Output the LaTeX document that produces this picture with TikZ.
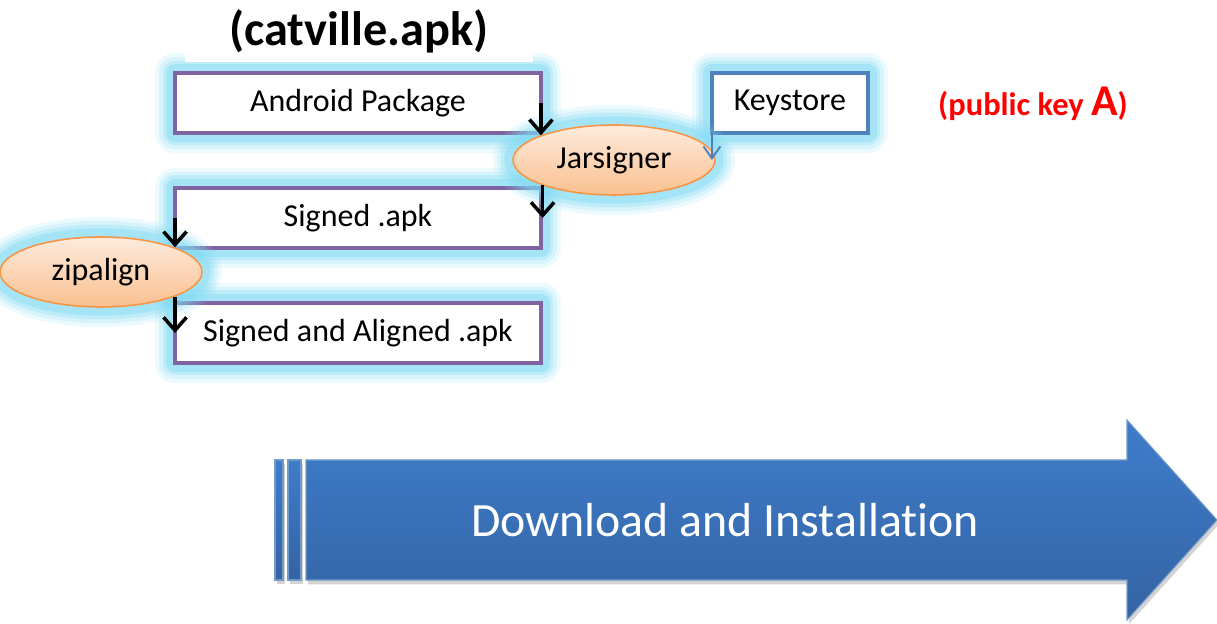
\documentclass[tikz,border=0pt]{standalone}
\usepackage{fontspec}
\setmainfont{Carlito}[Ligatures=NoCommon]
\usetikzlibrary{arrows.meta,positioning,shapes.geometric,shadows}
\definecolor{boxline}{HTML}{8064A2}
\definecolor{keyline}{HTML}{4F81BD}
\definecolor{glowc}{HTML}{7FD9F2}
\definecolor{ovalline}{HTML}{F79646}
\definecolor{ovaltop}{HTML}{FDEBDD}
\definecolor{ovalbot}{HTML}{FAC08F}
\definecolor{bandtop}{HTML}{3E7DCB}
\definecolor{bandbot}{HTML}{3463A3}

\begin{document}
\begin{tikzpicture}[x=0.02cm,y=-0.02cm,node distance=11mm and 34.2mm,
 glow/.style={preaction={draw=glowc,line width=8mm,opacity=0.14,line join=round},
  preaction={draw=glowc,line width=6.5mm,opacity=0.2,line join=round},
  preaction={draw=glowc,line width=5mm,opacity=0.28,line join=round},
  preaction={draw=glowc,line width=3.5mm,opacity=0.4,line join=round}},
 box/.style={glow,draw=boxline,line width=2.2pt,fill=white,outer sep=0pt,inner sep=0pt,
  minimum width=73.2mm,minimum height=12mm,font=\fontsize{18.2}{22}\selectfont},
 keybox/.style={box,draw=keyline,minimum width=31.2mm},
 oval/.style={glow,ellipse,draw=ovalline,line width=0.9pt,top color=ovaltop,bottom color=ovalbot,
  outer sep=0pt,inner sep=0pt,minimum width=40.4mm,minimum height=14mm,font=\fontsize{18.2}{22}\selectfont},
 arr/.style={-{Straight Barb[length=2.6mm,width=4.6mm]},line width=2pt,draw=black},
 keyarr/.style={-{Straight Barb[length=2.4mm,width=3.4mm]},line width=1.1pt,draw=keyline},
 band/.style={top color=bandtop,bottom color=bandbot,draw=keyline!80!white,line width=0.6pt,
  drop shadow={shadow xshift=1pt,shadow yshift=-2.5pt,opacity=0.35}}]
\useasboundingbox (0,0) rectangle (1217,624);
\node[box] (pkg) at (358,103) {\raisebox{-1pt}{Android Package}};
\node[box,below=of pkg] (signed) {\raisebox{-1pt}{Signed .apk}};
\node[box,below=of signed] (final) {\raisebox{-1pt}{Signed and Aligned .apk}};
\node[keybox,right=of pkg] (key) {\raisebox{-1pt}{Keystore}};
\node[fill=white,minimum width=69.6mm,minimum height=12.4mm,
 font=\bfseries\fontsize{27.5}{32}\selectfont] (title) at (359,31) {(catville.apk)};
\node[oval] (jar) at (614,160) {Jarsigner};
\node[oval] (zip) at (101,272) {zipalign};
\node[text=red,anchor=west,font=\bfseries\fontsize{18.5}{22}\selectfont] (pubkey) at (932,104)
 {(public key {\fontsize{25}{28}\selectfont A})};
\draw[arr] (pkg.east) -- (pkg.east |- jar.north west);
\draw[arr] (jar.south west) -- (jar.south west |- signed.east);
\draw[keyarr] (key.south west) -- (key.south west |- jar.east);
\draw[arr] (signed.west) -- (signed.west |- zip.north east);
\draw[arr] (final.west |- zip.south east) -- (final.west);
\path[band] (306,460) -- (1127,460) -- (1127,420) -- (1217,520) -- (1127,620) -- (1127,580) -- (306,580) -- cycle;
\path[band] (275,460) rectangle (283,580);
\path[band] (288,460) rectangle (301,580);
\node[text=white,font=\fontsize{27.2}{32}\selectfont] (dl) at (725,520) {Download and Installation};
\end{tikzpicture}
\end{document}
